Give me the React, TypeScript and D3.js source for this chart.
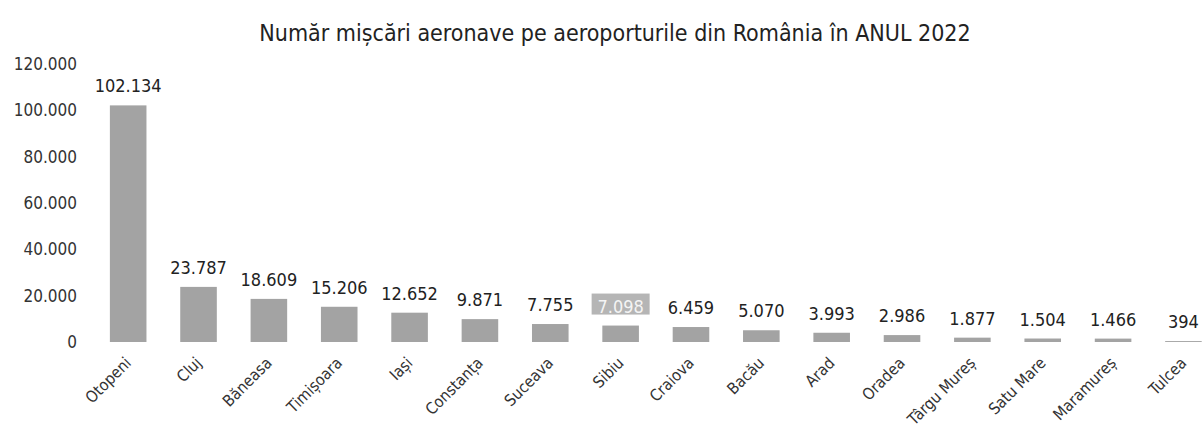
import React from "react";
import * as d3 from "d3";

const categories = [
  "Otopeni", "Cluj", "Băneasa", "Timișoara", "Iași", "Constanța", "Suceava", "Sibiu",
  "Craiova", "Bacău", "Arad", "Oradea", "Târgu Mureș", "Satu Mare", "Maramureș", "Tulcea",
];
const values = [102134, 23787, 18609, 15206, 12652, 9871, 7755, 7098, 6459, 5070, 3993, 2986, 1877, 1504, 1466, 394];
const yTicks = [0, 20000, 40000, 60000, 80000, 100000, 120000];
const title = "Număr mișcări aeronave pe aeroporturile din România în ANUL 2022";

const W = 1203;
const H = 429;
const FONT = "'Liberation Sans Narrow', 'DejaVu Sans Condensed', 'Liberation Sans', sans-serif";

const locale = d3.formatLocale({ decimal: ",", thousands: ".", grouping: [3], currency: ["", ""] });
const fmt = locale.format(",d");

export default function App() {
  const x = d3.scaleBand<string>().domain(categories).range([93, 93 + 70.35 * 16]).paddingInner(0.48).paddingOuter(0.24);
  const y = d3.scaleLinear().domain([0, 120000]).range([342, 64]);
  const bw = x.bandwidth();
  return (
    <svg width={W} height={H} style={{ position: "absolute", left: 0, top: 0, background: "#fff" }} fontFamily={FONT}>
      <text x={615} y={41} textAnchor="middle" fontSize={23} fill="#222">{title}</text>
      {yTicks.map((t) => (
        <text key={t} x={77} y={y(t)} dy="0.35em" textAnchor="end" fontSize={17} fill="#333">{fmt(t)}</text>
      ))}
      {categories.map((c, i) => {
        const cx = (x(c) as number) + bw / 2;
        const v = values[i];
        const top = y(v);
        const isSibiu = c === "Sibiu";
        return (
          <g key={c}>
            <rect x={x(c)} y={top} width={bw} height={y(0) - top} fill="#a3a3a3" />
            {isSibiu && <rect x={cx - 29} y={top - 32} width={58} height={21} fill="#b5b5b5" />}
            <text x={cx} y={top - 13} textAnchor="middle" fontSize={18} fill={isSibiu ? "#f4f4f4" : "#222"}>{fmt(v)}</text>
            <text transform={`translate(${cx + 4},${364}) rotate(-45)`} textAnchor="end" fontSize={16} fill="#333">{c}</text>
          </g>
        );
      })}
    </svg>
  );
}
